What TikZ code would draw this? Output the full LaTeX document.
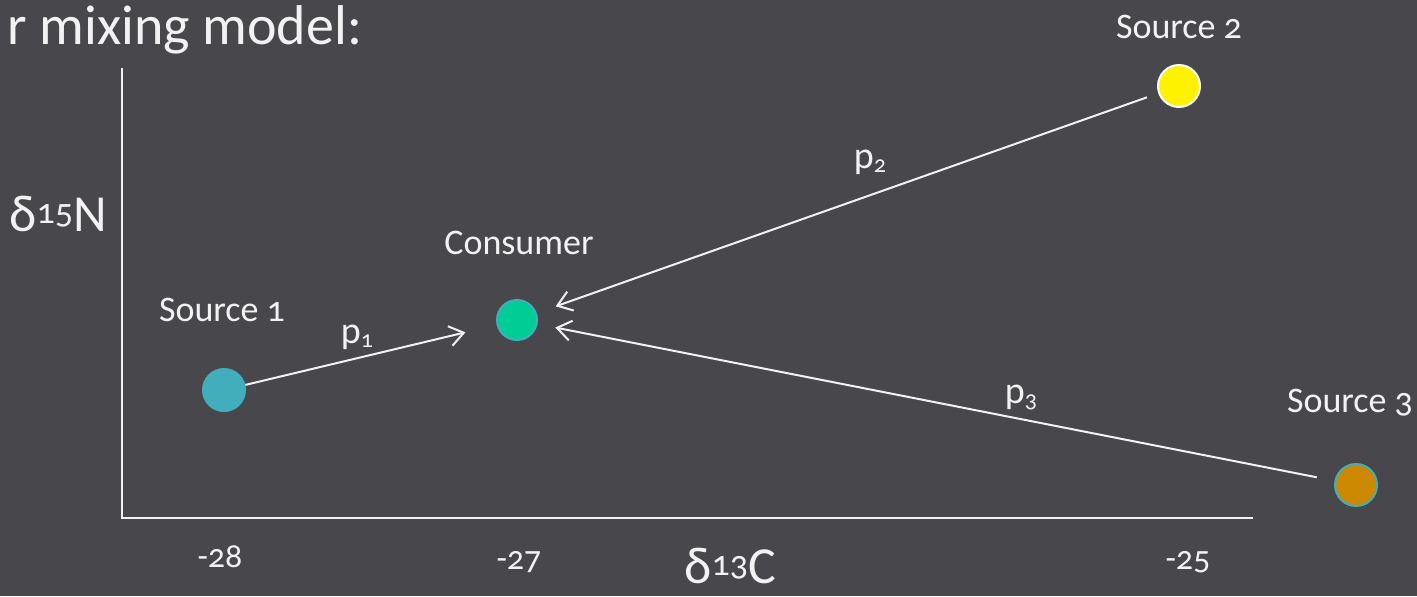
\documentclass[tikz,border=0pt]{standalone}
\usepackage{fontspec}
\setmainfont[Numbers=OldStyle]{Carlito}
\definecolor{slidegray}{RGB}{72,71,76}
\definecolor{paletext}{RGB}{242,242,242}
\definecolor{tealsrc}{RGB}{66,173,187}
\definecolor{mintcons}{RGB}{0,204,150}
\definecolor{ochresrc}{RGB}{204,136,0}
\usetikzlibrary{arrows.meta}

\begin{document}
\begin{tikzpicture}[x=0.5pt, y=-0.5pt,
  dot/.style={circle, inner sep=0pt, minimum size=21pt, line width=1pt},
  lbl/.style={font=\fontsize{18}{22}\selectfont, text=paletext},
  plbl/.style={font=\fontsize{19}{22}\selectfont, text=paletext},
  ticklbl/.style={font=\fontsize{17}{20}\selectfont, text=paletext},
  axlbl/.style={font=\fontsize{26}{30}\selectfont, text=paletext, inner sep=0pt},
  flow/.style={-{Straight Barb[length=7pt, width=10pt]}, line width=1pt, paletext},
]
% background and frame
\fill[slidegray] (0,0) rectangle (1417,596);
\useasboundingbox (0,0) rectangle (1417,596);

% title (cut off at the left)
\node[font=\fontsize{28}{32}\selectfont, text=paletext, anchor=west, inner sep=0pt] (title) at (7,30) {r mixing model:};

% Axes
\draw[line width=1pt, paletext] (122,68) -- (122,518) -- (1253,518);
\node[axlbl] (ylab) at (58,214) {δ\raisebox{4pt}{\fontsize{18}{20}\selectfont 15}N};
\node[axlbl] (xlab) at (730,566) {δ\raisebox{4pt}{\fontsize{18}{20}\selectfont 13}C};
\node[ticklbl] (t28) at (220,557) {-28};
\node[ticklbl] (t27) at (519,562) {-27};
\node[ticklbl] (t25) at (1188,562) {-25};

% Sources and consumer
\node[dot, fill=tealsrc, draw=tealsrc] (src1) at (224,390) {};
\node[dot, fill=mintcons, draw=tealsrc, minimum size=20pt] (cons) at (517,320) {};
\node[dot, fill=yellow, draw=white] (src2) at (1179,86) {};
\node[dot, fill=ochresrc, draw=tealsrc] (src3) at (1356,485) {};

\node[lbl] at (222,310) {Source 1};
\node[lbl] at (519,243) {Consumer};
\node[lbl] at (1179,27) {Source 2};
\node[lbl] at (1350,403) {Source 3};

% Arrows
\draw[flow, shorten >=16pt] (src1) -- (cons);
\draw[flow, shorten <=6pt, shorten >=10pt] (src2) -- (cons);
\draw[flow, shorten <=9pt, shorten >=9pt] (src3) -- (cons);

\node[plbl] (p1) at (357,337) {p{\fontsize{12}{14}\selectfont\raisebox{-2pt}{1}}};
\node[plbl] (p2) at (870,162) {p{\fontsize{12}{14}\selectfont\raisebox{-2pt}{2}}};
\node[plbl] (p3) at (1021,397) {p{\fontsize{12}{14}\selectfont\raisebox{-2pt}{3}}};
\end{tikzpicture}
\end{document}
